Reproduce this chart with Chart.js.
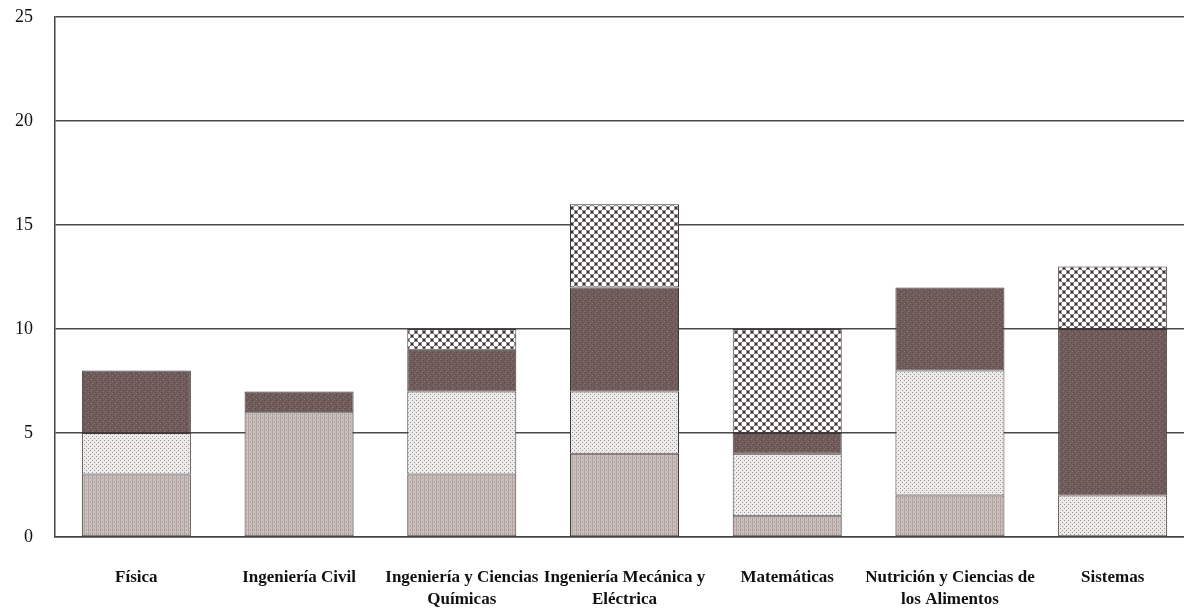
<!DOCTYPE html>
<html>
<head>
<meta charset="utf-8">
<script src="https://cdn.jsdelivr.net/npm/chart.js"></script>
<style>
  html, body { margin: 0; padding: 0; background: #fff; overflow: hidden; }
  #wrap { width: 1194px; height: 608px; }
</style>
</head>
<body>
<div id="wrap"><canvas id="chart"></canvas></div>
<script>
var categories = ["Física", "Ingeniería Civil", ["Ingeniería y Ciencias", "Químicas"],
    ["Ingeniería Mecánica y", "Eléctrica"], "Matemáticas",
    ["Nutrición y Ciencias de", "los Alimentos"], "Sistemas"];
var serie1 = [3, 6, 3, 4, 1, 2, 0];
var serie2 = [2, 0, 4, 3, 3, 6, 2];
var serie3 = [3, 1, 2, 5, 1, 4, 8];
var serie4 = [0, 0, 1, 4, 5, 0, 3];
var yTicks = [0, 5, 10, 15, 20, 25];

// small tiles used as fill patterns (printed look)
function makeTile(size, draw) {
    var c = document.createElement("canvas");
    c.width = size; c.height = size;
    var g = c.getContext("2d");
    draw(g, size);
    return document.getElementById("chart").getContext("2d").createPattern(c, "repeat");
}

var fillVert = makeTile(4, function (g) {
    g.fillStyle = "#cbc0bd"; g.fillRect(0, 0, 4, 4);
    g.fillStyle = "#afa3a0"; g.fillRect(0, 0, 1, 4); g.fillRect(2, 1, 1, 2);
});
var fillDots = makeTile(4, function (g) {
    g.fillStyle = "#ecebea"; g.fillRect(0, 0, 4, 4);
    g.fillStyle = "#9c9696"; g.fillRect(0, 0, 1, 1); g.fillRect(2, 2, 1, 1);
});
var fillDark = makeTile(6, function (g) {
    g.fillStyle = "#6f5c5a"; g.fillRect(0, 0, 6, 6);
    g.fillStyle = "#8a7775"; g.fillRect(1, 1, 1, 1); g.fillRect(4, 3, 1, 1); g.fillRect(2, 5, 1, 1);
    g.fillStyle = "#5a4948"; g.fillRect(3, 0, 1, 1); g.fillRect(0, 4, 1, 1); g.fillRect(5, 2, 1, 1);
});
var fillCross = makeTile(8, function (g) {
    g.fillStyle = "#3a3232"; g.fillRect(0, 0, 8, 8);
    g.fillStyle = "#ffffff";
    g.beginPath(); g.arc(4, 4, 2.6, 0, Math.PI * 2); g.fill();
    [[0, 0], [8, 0], [0, 8], [8, 8]].forEach(function (p) {
        g.beginPath(); g.arc(p[0], p[1], 2.6, 0, Math.PI * 2); g.fill();
    });
});

function serie(data, fill) {
    return {
        data: data,
        backgroundColor: fill,
        borderColor: "#403838",
        borderWidth: 1,
        borderSkipped: false,
        categoryPercentage: 1,
        barPercentage: 0.67
    };
}

var ctx = document.getElementById("chart").getContext("2d");
window.grafica = new Chart(ctx, {
    type: "bar",
    data: {
        labels: categories,
        datasets: [
            serie(serie1, fillVert),
            serie(serie2, fillDots),
            serie(serie3, fillDark),
            serie(serie4, fillCross)
        ]
    },
    options: {
        responsive: true,
        maintainAspectRatio: false,
        animation: false,
        layout: { padding: 0 },
        plugins: { legend: { display: false }, tooltip: { enabled: false } },
        scales: {
            x: {
                stacked: true,
                grid: { display: false },
                border: { color: "#444", width: 1.5 },
                ticks: {
                    color: "#111",
                    padding: 22,
                    maxRotation: 0,
                    autoSkip: false,
                    font: { family: "Liberation Serif", weight: "bold", size: 17, lineHeight: 1.28 }
                },
                afterFit: function (s) { s.height = 71; }
            },
            y: {
                stacked: true,
                min: 0,
                max: 25,
                afterBuildTicks: function (s) { s.ticks = yTicks.map(function (v) { return { value: v }; }); },
                grid: { color: "#4a4a4a", lineWidth: 1.5, drawTicks: false },
                border: { color: "#444", width: 1.5 },
                ticks: {
                    color: "#111",
                    padding: 22,
                    font: { family: "Liberation Serif", size: 18 }
                },
                afterFit: function (s) {
                    s.width = 55;
                    s.paddingTop = 17;
                    s.paddingBottom = 0;
                }
            }
        }
    }
});
</script>
</body>
</html>
